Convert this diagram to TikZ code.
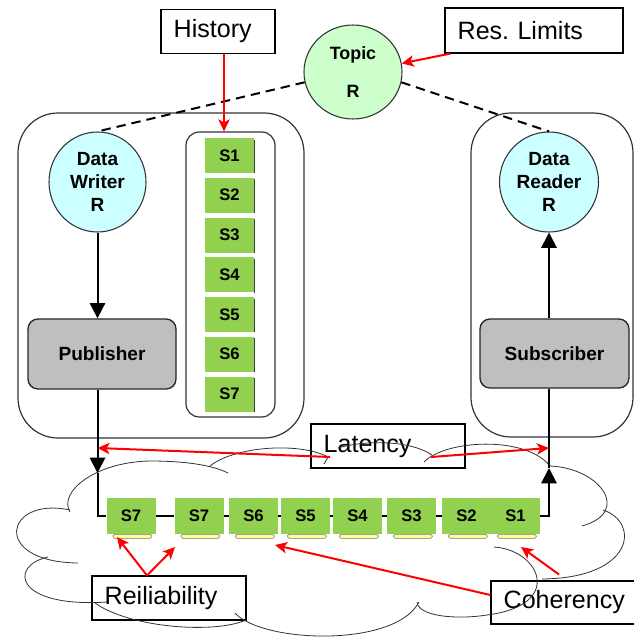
\documentclass[tikz,border=0pt]{standalone}
\usepackage{fontspec}
\setmainfont{Liberation Sans}
\usetikzlibrary{arrows.meta,shapes.geometric}

\definecolor{sgreen}{HTML}{92D050}
\definecolor{topicgreen}{HTML}{CCFFCC}
\definecolor{rolecyan}{HTML}{CCFFFF}
\definecolor{entgray}{HTML}{BFBFBF}
\definecolor{tabyellow}{HTML}{FFFF99}
\definecolor{qosred}{HTML}{FF0000}

\newcommand\qosfont{\fontsize{18.8pt}{22pt}\selectfont}
\newcommand\rolefont{\bfseries\fontsize{14.3pt}{17.25pt}\selectfont}
\newcommand\topicfont{\bfseries\fontsize{13.4pt}{17pt}\selectfont}
\newcommand\seqfont{\bfseries\fontsize{12.5pt}{15pt}\selectfont}

\begin{document}
\begin{tikzpicture}[x=0.75pt,y=-0.75pt,
  panel/.style={draw=black!80,line width=0.9pt,rounded corners=30pt,inner sep=0pt},
  histpanelstyle/.style={draw=black!80,line width=0.9pt,rounded corners=10pt,inner sep=0pt},
  qos/.style={draw=black,line width=0.8pt,align=left,inner xsep=9.5pt,inner ysep=0pt,font=\qosfont},
  topicnode/.style={ellipse,draw=black!80,line width=0.8pt,fill=topicgreen,inner sep=0pt,
    minimum width=73.5pt,minimum height=70.5pt,align=center,font=\topicfont},
  rolenode/.style={ellipse,draw=black!80,line width=0.8pt,fill=rolecyan,inner sep=0pt,
    minimum height=75pt,align=center,font=\rolefont},
  entity/.style={draw=black!85,line width=1pt,fill=entgray,rounded corners=7.5pt,
    inner sep=0pt,font=\rolefont},
  sbox/.style={fill=sgreen,draw=none,inner sep=0pt,minimum width=36.75pt,font=\seqfont},
  tab/.style={fill=tabyellow,draw=black!55,line width=0.4pt,rounded corners=1.2pt},
  edgeshade/.style={draw=black!75,line width=1.1pt},
  wire/.style={draw=black,line width=1.5pt},
  flow/.style={wire,-{Triangle[length=11.5pt,width=11.5pt]}},
  assoc/.style={draw=black,line width=1.5pt,dash pattern=on 7pt off 4.5pt},
  qosarrow/.style={draw=qosred,line width=1.5pt,-{Stealth[length=9pt,width=8.5pt,inset=2.2pt]}},
  cloud/.style={draw=black!80,line width=0.6pt}
]
\useasboundingbox (0,0) rectangle (634,639);

% Publisher side and Subscriber side containers
\node[panel,minimum width=214.5pt,minimum height=243.75pt] (pubpanel) at (161,275.5) {};
\node[histpanelstyle,minimum width=66.75pt,minimum height=213.75pt] (histpanel) at (230.5,274.5) {};
\node[panel,minimum width=121.5pt,minimum height=243pt] (subpanel) at (552,275) {};

% QoS policy labels
\node[qos,text width=66.5pt,minimum height=33pt] (history) at (218,31.5) {History};
\node[qos,text width=114.5pt,minimum height=33.75pt] (reslimits) at (534,30.5) {Res.\ Limits};
\node[qos,text width=96.5pt,minimum height=33pt] (latency) at (388,446) {Latency};
\node[qos,text width=96.5pt,minimum height=33pt] (reil) at (169,598) {Reiliability};
\node[qos,text width=97.25pt,minimum height=32.25pt] (coherency) at (568.5,602.5) {Coherency};

% Network cloud
\draw[cloud] (70,512) .. controls (58,492) and (95,462) .. (150,461)
             .. controls (185,461) and (212,465) .. (228,473);
\draw[cloud] (210,466) .. controls (235,446) and (300,442) .. (328,457) -- (324,464);
\draw[cloud] (338,448) .. controls (365,440) and (410,440) .. (432,455);
\draw[cloud] (424,462) .. controls (445,440) and (525,435) .. (550,466);
\draw[cloud] (550,466) .. controls (600,468) and (632,512) .. (582,526);
\draw[cloud] (603,510) .. controls (640,522) and (635,578) .. (542,579);
\draw[cloud] (494,547) .. controls (540,550) and (565,605) .. (487,615)
             .. controls (455,620) and (418,616) .. (417,602);
\draw[cloud] (235,613) .. controls (262,643) and (395,648) .. (419,602);
\draw[cloud] (95,603) .. controls (130,628) and (215,634) .. (246,620);
\draw[cloud] (48,557) .. controls (8,566) and (15,608) .. (107,602);
\draw[cloud] (70,510) .. controls (5,496) and (-10,562) .. (78,563);

% Topic and its readers/writers
\node[topicnode] (topic) at (353,72) {Topic\\[11pt]R};
\node[rolenode,minimum width=72.75pt] (writer) at (97.5,182) {Data\\Writer\\R};
\node[rolenode,minimum width=74.25pt] (reader) at (549,182) {Data\\Reader\\R};
\node[entity,minimum width=111pt,minimum height=52.5pt] (publisher) at (102,354) {Publisher};
\node[entity,minimum width=111.75pt,minimum height=51.75pt] (subscriber) at (554.5,353.5) {Subscriber};

% Writer history samples
\foreach \i in {1,...,7} {
  \node[sbox,minimum height=26.25pt] (h\i) at (229.5,{155.5+39.75*(\i-1)}) {S\i};
  \draw[edgeshade] ([yshift=-1.5pt]h\i.north east) -- (h\i.south east);
}

% Samples on the wire
\foreach \n/\x/\lab in {q1/131/S7,q2/199/S7,q3/253.5/S6,q4/305.5/S5,q5/357.5/S4,q6/411.5/S3,q7/466.5/S2,q8/515.5/S1} {
  \node[sbox,minimum height=27pt] (\n) at (\x,516) {\lab};
  \draw[tab] ([xshift=5pt]\n.south west) rectangle ([xshift=-3pt,yshift=-3pt]\n.south east);
}

% Data path
\coordinate (pubdrop) at (97.5,473);
\coordinate (subrise) at (549,468);
\draw[flow] (writer.south) -- (writer.south |- publisher.north);
\draw[flow] (writer.south |- publisher.south) -- (pubdrop);
\draw[wire] (pubdrop) |- (q1.west);
\draw[wire] (q1) -- (q2) -- (q3) -- (q4) -- (q5) -- (q6) -- (q7);
\draw[flow] (q8.east) -| (subrise);
\draw[wire] (subrise) -- (subrise |- subscriber.south);
\draw[flow] (reader.south |- subscriber.north) -- (reader.south);

% Topic associations
\draw[assoc] (topic.192) -- (writer.north);
\draw[assoc] (topic.-12) -- (reader.north);

% QoS policy pointers
\coordinate (latL) at (97.5,448);
\coordinate (latR) at (549,448);
\coordinate (relA) at (117,537);
\coordinate (relB) at (175,547);
\coordinate (cohA) at (275,545);
\coordinate (cohB) at (521,547);
\draw[qosarrow] ([xshift=4.5pt]history.south) -- ([xshift=4.5pt]history.south |- histpanel.north);
\draw[qosarrow] ([xshift=4.5pt]reslimits.south west) -- (topic.10);
\draw[qosarrow] ([shift={(-58,11)}]latency.center) -- (latL);
\draw[qosarrow] ([shift={(43,11)}]latency.center) -- (latR);
\draw[qosarrow] ([xshift=-16.5pt]reil.north) -- (relA);
\draw[qosarrow] ([xshift=-16.5pt]reil.north) -- (relB);
\draw[qosarrow] ([yshift=5.6pt]coherency.west) -- (cohA);
\draw[qosarrow] ([shift={(-9.5,-6)}]coherency.north) -- (cohB);
\end{tikzpicture}
\end{document}
